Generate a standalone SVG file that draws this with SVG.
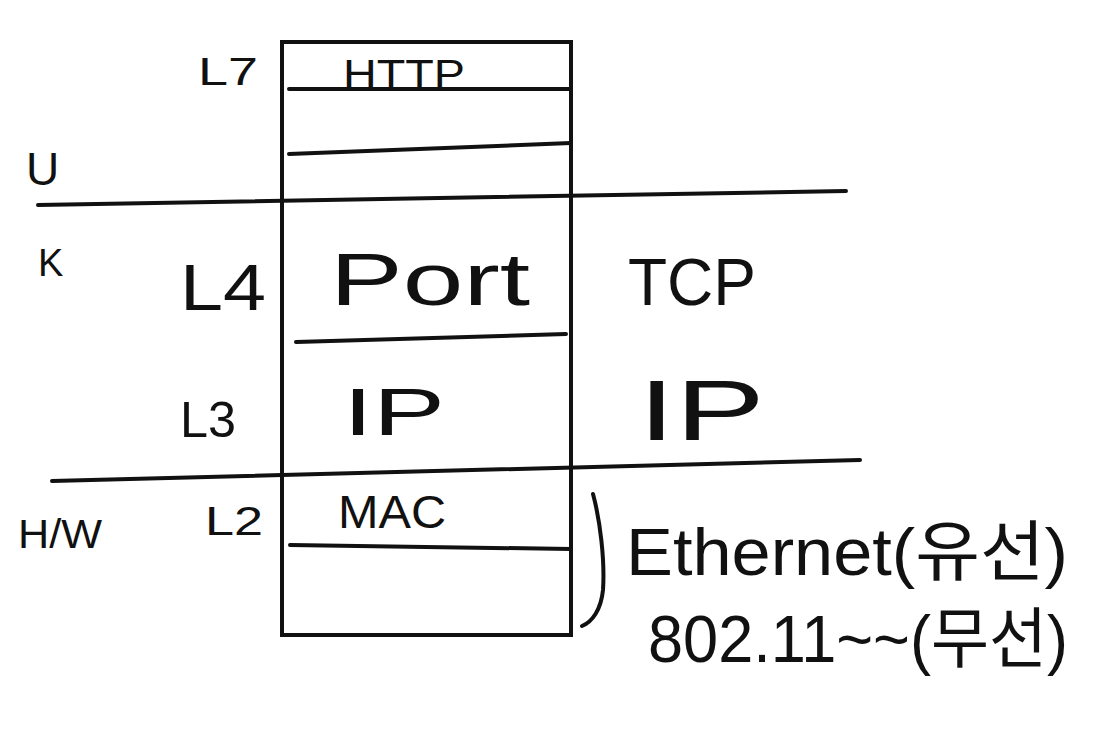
<svg xmlns="http://www.w3.org/2000/svg" width="1103" height="750" viewBox="0 0 1103 750">
<style>
.ln{stroke:#111;stroke-width:4;fill:none;stroke-linecap:round}
.t{font-family:"Liberation Sans","Noto Sans CJK KR",sans-serif;fill:#111}
</style>
<rect width="1103" height="750" fill="#fff"/>
<g id="stack">
<rect class="ln" x="282" y="42" width="289" height="593" stroke-linecap="butt"/>
<line class="ln" x1="289" y1="89" x2="571" y2="89"/>
<line class="ln" x1="289" y1="154" x2="571" y2="143"/>
<line class="ln" x1="296" y1="342" x2="566" y2="334"/>
<line class="ln" x1="290" y1="545" x2="571" y2="549"/>
</g>
<g id="dividers">
<line class="ln" x1="38" y1="205" x2="846" y2="191"/>
<line class="ln" x1="52" y1="481" x2="860" y2="460"/>
<path class="ln" d="M593,494 C600,520 605,560 603,590 C601,610 592,622 582,626"/>
</g>
<g id="labels">
<text class="t" x="198" y="85" font-size="38" textLength="60" lengthAdjust="spacingAndGlyphs">L7</text>
<text class="t" x="343" y="88" font-size="40" textLength="122" lengthAdjust="spacingAndGlyphs">HTTP</text>
<text class="t" x="26" y="185" font-size="46">U</text>
<text class="t" x="38" y="276" font-size="38">K</text>
<text class="t" x="180" y="310" font-size="64" textLength="86" lengthAdjust="spacingAndGlyphs">L4</text>
<text class="t" x="330" y="305" font-size="74" textLength="200" lengthAdjust="spacingAndGlyphs">Port</text>
<text class="t" x="628" y="305" font-size="66" textLength="128" lengthAdjust="spacingAndGlyphs">TCP</text>
<text class="t" x="180" y="437" font-size="50" textLength="56" lengthAdjust="spacingAndGlyphs">L3</text>
<text class="t" x="343" y="435" font-size="66" textLength="102" lengthAdjust="spacingAndGlyphs">IP</text>
<text class="t" x="638" y="440" font-size="86" textLength="127" lengthAdjust="spacingAndGlyphs">IP</text>
<text class="t" x="18" y="548" font-size="40" textLength="84" lengthAdjust="spacingAndGlyphs">H/W</text>
<text class="t" x="205" y="535" font-size="40" textLength="58" lengthAdjust="spacingAndGlyphs">L2</text>
<text class="t" x="338" y="528" font-size="46" textLength="108" lengthAdjust="spacingAndGlyphs">MAC</text>
<text class="t" x="626" y="575" font-size="66" textLength="442" lengthAdjust="spacingAndGlyphs">Ethernet(유선)</text>
<text class="t" x="648" y="662" font-size="66" textLength="420" lengthAdjust="spacingAndGlyphs">802.11~~(무선)</text>
</g>
</svg>
